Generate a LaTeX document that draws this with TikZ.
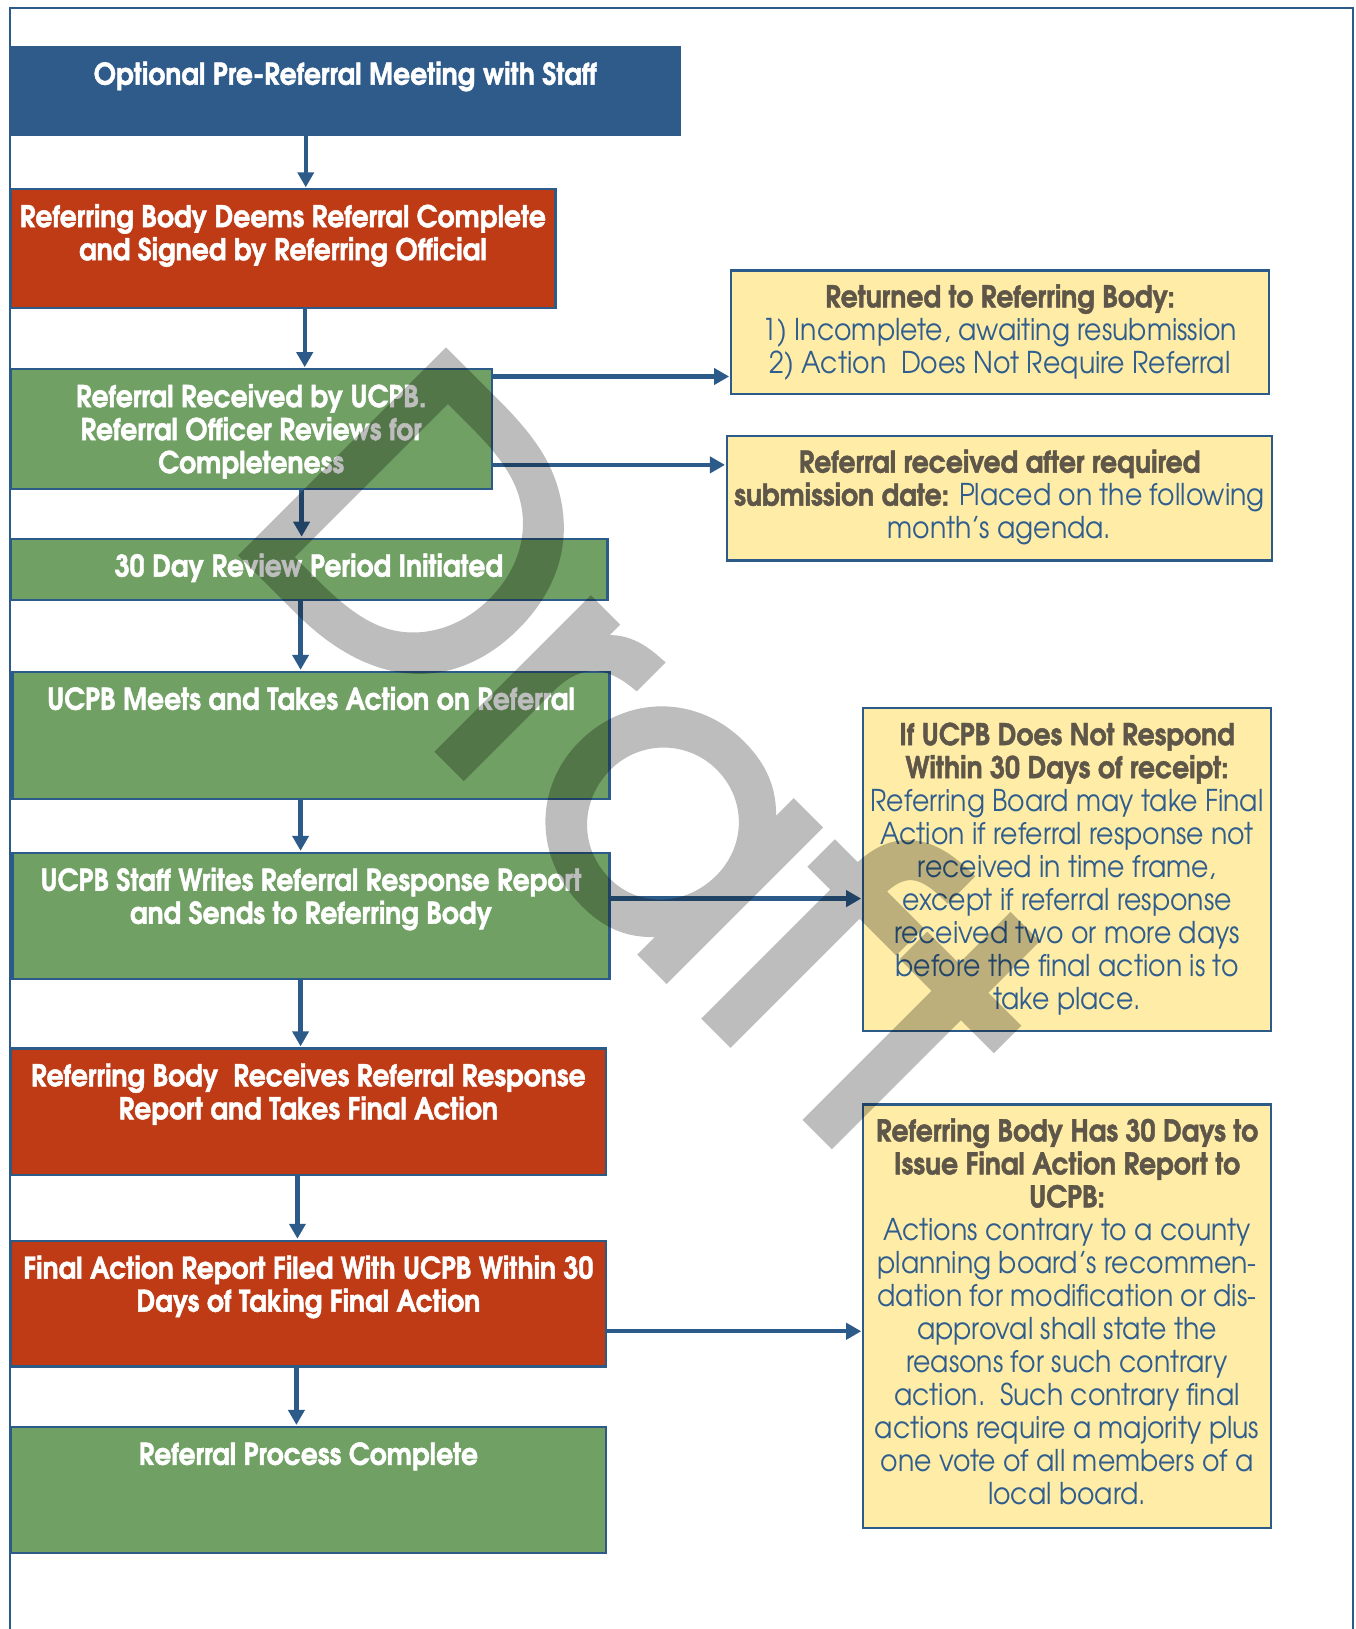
\documentclass[tikz,border=0pt]{standalone}
\usepackage{fontspec}
\setmainfont{texgyreadventor}[Extension=.otf, UprightFont=*-regular, BoldFont=*-bold, FakeStretch=0.89, BoldFeatures={FakeBold=1.5}]
\newfontfamily\wmfont{texgyreadventor}[Extension=.otf, UprightFont=*-regular, FakeBold=3.5]
\usetikzlibrary{arrows.meta,calc}
\definecolor{cblue}{HTML}{2E5B8A}
\definecolor{cline}{HTML}{2C5A89}
\definecolor{cred}{HTML}{BE3B16}
\definecolor{cgreen}{HTML}{70A063}
\definecolor{cyel}{HTML}{FFEDA7}
\definecolor{cgrey}{HTML}{5E5649}
\definecolor{ctxt}{HTML}{2F5D8E}
\newcommand\fs{\rule{0pt}{12pt}}
\newcommand\hd[1]{{\bfseries\color{cgrey}#1}}
\newcommand\bx[6]{\node[#6, anchor=north west, minimum width={(#4-#2)*0.52pt}, minimum height={(#5-#3)*0.52pt}] (#1) at (#2,#3) {};}
\begin{document}
\begin{tikzpicture}[x=0.52pt,y=-0.52pt,
  boxstyle/.style={draw=cline, line width=1.15pt, inner sep=0pt, outer sep=0pt},
  bluebox/.style={boxstyle, fill=cblue, draw=cblue},
  redbox/.style={boxstyle, fill=cred},
  greenbox/.style={boxstyle, fill=cgreen},
  yelbox/.style={boxstyle, fill=cyel},
  wtxt/.style={anchor=north, align=center, inner sep=0pt, text=white, font=\bfseries\fontsize{15}{16.5}\selectfont},
  ytxt/.style={anchor=north, align=center, inner sep=0pt, text=ctxt, font=\fontsize{15}{16.5}\selectfont},
  arr/.style={draw=cline, line width=2.2pt, -{Triangle[length=7.5pt,width=8pt]}, shorten >=1pt},
  frame/.style={draw=cline, line width=1pt},
  wm/.style={font=\wmfont\fontsize{190}{190}\selectfont, text=black, inner sep=0pt}]
\useasboundingbox (0,0) rectangle (1303.8,1566.3);
% frame
\draw[frame] (9.5,1600) -- (9.5,8) -- (1301,8) -- (1301,1600);
% boxes
\bx{b1}{10}{45}{654}{130}{bluebox}
\bx{b2}{10}{182}{534}{296}{redbox}
\bx{b3}{10}{355}{473}{470}{greenbox}
\bx{b4}{10}{518}{584}{577}{greenbox}
\bx{b5}{12}{646}{586}{768}{greenbox}
\bx{b6}{12}{820}{586}{941}{greenbox}
\bx{b7}{10}{1008}{583}{1130}{redbox}
\bx{b8}{10}{1193}{583}{1314}{redbox}
\bx{b9}{10}{1372}{583}{1493}{greenbox}
\bx{r1}{703}{260}{1220}{379}{yelbox}
\bx{r2}{699}{419}{1223}{539}{yelbox}
\bx{r3}{830}{681}{1222}{991}{yelbox}
\bx{r4}{830}{1062}{1222}{1469}{yelbox}
% texts
\node[wtxt] (t1) at ($(b1.north)+(0,13)$) {\fs Optional Pre-Referral Meeting with Staff};
\node[wtxt] (t2) at ($(b2.north)+(0,13)$) {\fs Referring Body Deems Referral Complete\\and Signed by Referring Official};
\node[wtxt] (t3) at ($(b3.north)+(0,13)$) {\fs Referral Received by UCPB.\\Referral Officer Reviews for\\Completeness};
\node[wtxt] (t4) at ($(b4.north)+(0,13)$) {\fs 30 Day Review Period Initiated};
\node[wtxt] (t5) at ($(b5.north)+(0,13)$) {\fs UCPB Meets and Takes Action on Referral};
\node[wtxt] (t6) at ($(b6.north)+(0,13)$) {\fs UCPB Staff Writes Referral Response Report\\and Sends to Referring Body};
\node[wtxt] (t7) at ($(b7.north)+(0,13)$) {\fs Referring Body\ \ Receives Referral Response\\Report and Takes Final Action};
\node[wtxt] (t8) at ($(b8.north)+(0,13)$) {\fs Final Action Report Filed With UCPB Within 30\\Days of Taking Final Action};
\node[wtxt] (t9) at ($(b9.north)+(0,13)$) {\fs Referral Process Complete};
\node[ytxt] (u1) at ($(r1.north)+(0,12)$) {\fs\hd{Returned to Referring Body:}\\1) Incomplete, awaiting resubmission\\2) Action\ \ Does Not Require Referral};
\node[ytxt] (u2) at ($(r2.north)+(0,12)$) {\fs\hd{Referral received after required}\\\hd{submission date:} Placed on the following\\month’s agenda.};
\node[ytxt] (u3) at ($(r3.north)+(0,12)$) {\fs\hd{If UCPB Does Not Respond}\\\hd{Within 30 Days of receipt:}\\Referring Board may take Final\\Action if referral response not\\received in time frame,\\except if referral response\\received two or more days\\before the final action is to\\take place.};
\node[ytxt] (u4) at ($(r4.north)+(0,12)$) {\fs\hd{Referring Body Has 30 Days to}\\\hd{Issue Final Action Report to}\\\hd{UCPB:}\\Actions contrary to a county\\planning board’s recommen-\\dation for modification or dis-\\approval shall state the\\reasons for such contrary\\action.\ \ Such contrary final\\actions require a majority plus\\one vote of all members of a\\local board.};
% connectors
\draw[arr] (294,0 |- b1.south) -- (294,0 |- b2.north);
\draw[arr] (293,0 |- b2.south) -- (293,0 |- b3.north);
\draw[arr] (b3.east |- 0,362) -- (r1.west |- 0,362);
\draw[arr] (b3.east |- 0,447) -- (r2.west |- 0,447);
\draw[arr] (290,0 |- b3.south) -- (290,0 |- b4.north);
\draw[arr] (289,0 |- b4.south) -- (289,0 |- b5.north);
\draw[arr] (289,0 |- b5.south) -- (289,0 |- b6.north);
\draw[arr] (b6.east |- 0,864) -- (r3.west |- 0,864);
\draw[arr] (289,0 |- b6.south) -- (289,0 |- b7.north);
\draw[arr] (286,0 |- b7.south) -- (286,0 |- b8.north);
\draw[arr] (b8.east |- 0,1280) -- (r4.west |- 0,1280);
\draw[arr] (285,0 |- b8.south) -- (285,0 |- b9.north);
% watermark
\begin{scope}[transparency group, opacity=0.26]
\node[wm, rotate=-45, anchor=base west] (wmk) at (218,514) {Draft};
\end{scope}
\end{tikzpicture}
\end{document}
